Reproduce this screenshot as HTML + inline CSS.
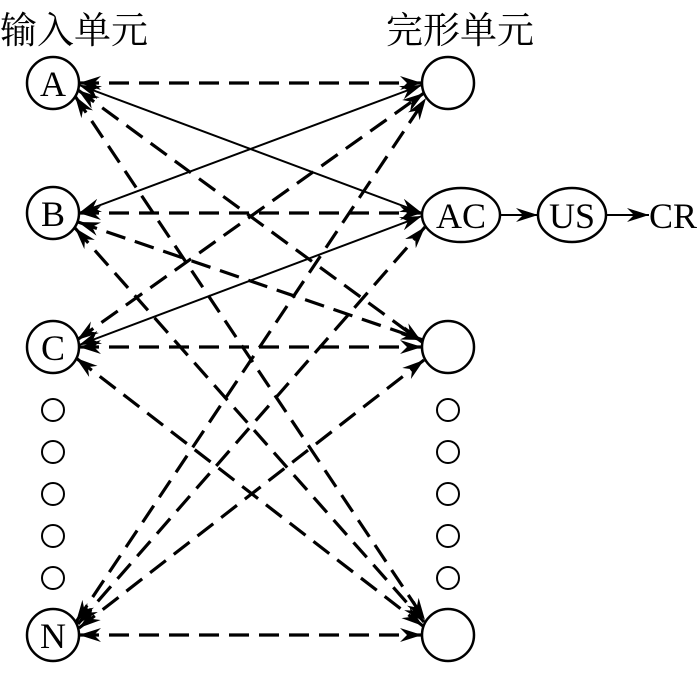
<!DOCTYPE html>
<html><head><meta charset="utf-8"><style>
html,body{margin:0;padding:0;background:#fff;}
svg{display:block;}
text{font-family:"Liberation Serif","Noto Serif CJK SC",serif;fill:#000;}
</style></head><body>
<svg width="700" height="673" viewBox="0 0 700 673" xmlns="http://www.w3.org/2000/svg">
<defs>
<marker id="ar" markerWidth="24" markerHeight="14" refX="22" refY="7" orient="auto-start-reverse" markerUnits="userSpaceOnUse">
<path d="M0,0 L22,7 L0,14 L7,7 Z" fill="#000"/>
</marker>
</defs>
<text x="0" y="43" font-size="37" font-family="Noto Serif CJK SC, serif">输入单元</text>
<text x="386" y="43" font-size="37" font-family="Noto Serif CJK SC, serif">完形单元</text>
<g stroke="#000" stroke-width="3.2" fill="none" stroke-dasharray="20,10" marker-start="url(#ar)" marker-end="url(#ar)">
<line x1="79" y1="83" x2="422" y2="83"/>
<line x1="78" y1="90" x2="422" y2="342"/>
<line x1="75" y1="96" x2="425" y2="620"/>
<line x1="79" y1="213" x2="422" y2="213"/>
<line x1="78" y1="222" x2="423" y2="340"/>
<line x1="75" y1="228" x2="424" y2="622"/>
<line x1="79" y1="347" x2="422" y2="347"/>
<line x1="77" y1="340" x2="424" y2="93"/>
<line x1="76" y1="358" x2="423" y2="626"/>
<line x1="79" y1="635" x2="422" y2="635"/>
<line x1="76" y1="622" x2="426" y2="98"/>
<line x1="78" y1="624" x2="425" y2="227"/>
<line x1="79" y1="628" x2="424" y2="360"/>
</g>
<g stroke="#000" stroke-width="2" fill="none" marker-start="url(#ar)" marker-end="url(#ar)">
<line x1="79" y1="85" x2="422" y2="213"/>
<line x1="79" y1="213" x2="422" y2="85"/>
<line x1="79" y1="345" x2="422" y2="216"/>
</g>
<g stroke="#000" stroke-width="2.5" fill="#fff">
<circle cx="53" cy="83" r="26"/>
<circle cx="53" cy="213" r="26"/>
<circle cx="53" cy="347" r="26"/>
<circle cx="53" cy="635" r="26"/>
<circle cx="448" cy="83" r="26"/>
<ellipse cx="461" cy="215" rx="39" ry="27"/>
<circle cx="448" cy="347" r="26"/>
<circle cx="448" cy="635" r="26"/>
<ellipse cx="572" cy="215" rx="34" ry="27"/>
</g>
<g stroke="#000" stroke-width="2" fill="#fff">
<circle cx="53" cy="410" r="11"/><circle cx="53" cy="452" r="11"/><circle cx="53" cy="494" r="11"/><circle cx="53" cy="536" r="11"/><circle cx="53" cy="578" r="11"/>
<circle cx="448" cy="410" r="11"/><circle cx="448" cy="452" r="11"/><circle cx="448" cy="494" r="11"/><circle cx="448" cy="536" r="11"/><circle cx="448" cy="578" r="11"/>
</g>
<g stroke="#000" stroke-width="2" marker-end="url(#ar)">
<line x1="500" y1="215" x2="538" y2="215"/>
<line x1="606" y1="215" x2="649" y2="215"/>
</g>
<g font-size="36" text-anchor="middle">
<text x="53" y="96">A</text>
<text x="53" y="226">B</text>
<text x="53" y="360">C</text>
<text x="53" y="648">N</text>
<text x="461" y="228">AC</text>
<text x="572" y="228">US</text>
<text x="673" y="228">CR</text>
</g>
</svg>
</body></html>
